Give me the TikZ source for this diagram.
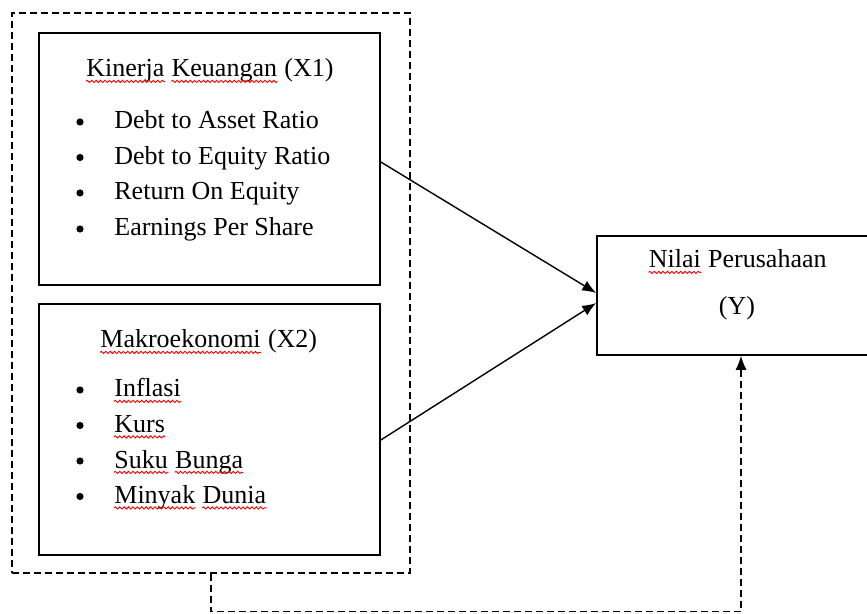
\documentclass[tikz,border=0pt]{standalone}
\usepackage{fontspec}
\setmainfont{Liberation Serif}
\usetikzlibrary{arrows.meta,decorations.pathmorphing}
\begin{document}
\begin{tikzpicture}[x=0.5pt,y=-0.5pt,
  box/.style={draw, line width=0.8pt, rectangle, inner sep=0pt},
  grp/.style={draw, line width=0.6pt, dash pattern=on 3.5pt off 2pt, rectangle, inner sep=0pt},
  conn/.style={line width=0.7pt, -{Latex[length=7pt,width=5.5pt]}},
  fb/.style={line width=0.6pt, dash pattern=on 3.5pt off 2pt, -{Latex[length=7pt,width=5.5pt]}},
  txt/.style={inner sep=0pt, font=\fontsize{13}{15}\selectfont},
  itm/.style={txt, anchor=base west},
  bul/.style={circle, fill=black, inner sep=0pt, minimum size=3.6pt},
  wave/.style={red, line width=0.45pt, decorate, decoration={snake, amplitude=0.55pt, segment length=2.2pt}}]
\useasboundingbox (0,0) rectangle (867,614);
\clip (0,0) rectangle (867,614);
% outer dashed group
\node[grp, minimum width=199pt, minimum height=280pt] (group) at (211,293) {};
% boxes
\node[box, minimum width=170.5pt, minimum height=126pt] (X1) at (209.5,159) {};
\node[box, minimum width=170.5pt, minimum height=125.5pt] (X2) at (209.5,429.5) {};
\node[box, minimum width=144pt, minimum height=59.5pt] (Y) at (741,295.5) {};
% X1 texts
\node[itm] (t1a) at (86,77) {Kinerja};
\node[itm] (t1b) at ([xshift=3.25pt]t1a.base east) {Keuangan};
\node[itm] (t1c) at ([xshift=3.25pt]t1b.base east) {(X1)};
\node[bul] (b11) at (80,122) {};
\node[bul] (b12) at (80,157.5) {};
\node[bul] (b13) at (80,193) {};
\node[bul] (b14) at (80,229) {};
\node[itm] (i11) at (114,129) {Debt to Asset Ratio};
\node[itm] (i12) at (114,164.5) {Debt to Equity Ratio};
\node[itm] (i13) at (114,200) {Return On Equity};
\node[itm] (i14) at (114,236) {Earnings Per Share};
% X2 texts
\node[itm] (t2a) at (100,348) {Makroekonomi};
\node[itm] (t2b) at ([xshift=3.25pt]t2a.base east) {(X2)};
\node[bul] (b21) at (80,390) {};
\node[bul] (b22) at (80,425.5) {};
\node[bul] (b23) at (80,461) {};
\node[bul] (b24) at (80,496.5) {};
\node[itm] (i21) at (114,397) {Inflasi};
\node[itm] (i22) at (114,432.5) {Kurs};
\node[itm] (i23a) at (114,468) {Suku};
\node[itm] (i23b) at ([xshift=3.25pt]i23a.base east) {Bunga};
\node[itm] (i24a) at (114,503.5) {Minyak};
\node[itm] (i24b) at ([xshift=3.25pt]i24a.base east) {Dunia};
% Y texts
\node[itm] (ty1a) at (648.5,268) {Nilai};
\node[itm] (ty1b) at ([xshift=3.25pt]ty1a.base east) {Perusahaan};
\node[txt, anchor=base] (ty2) at (737,315) {(Y)};
% spell-check squiggles
\foreach \w in {t1a,t1b,t2a,i21,i22,i23a,i23b,i24a,i24b,ty1a}
  \draw[wave] ([yshift=-2.2pt]\w.base west) -- ([yshift=-2.2pt]\w.base east);
% connectors
\draw[conn] ([yshift=-1.5pt]X1.east) -- ([yshift=1.25pt]Y.west);
\draw[conn] ([yshift=-5.25pt]X2.east) -- ([yshift=-3.75pt]Y.west);
\draw[fb] (group.south) -- ++(0,38) -| (Y.south);
\end{tikzpicture}
\end{document}
